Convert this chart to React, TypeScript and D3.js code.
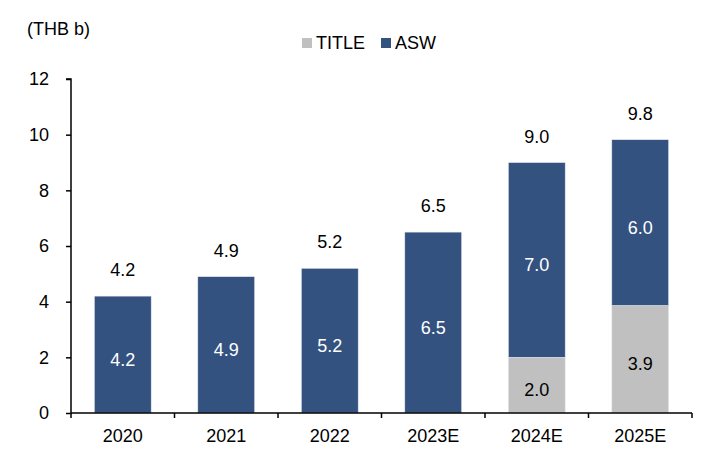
import React, { useEffect, useRef } from 'react';
import * as d3 from 'd3';

const categories = ['2020', '2021', '2022', '2023E', '2024E', '2025E'];
const titleValues = [0, 0, 0, 0, 2.0, 3.86];
const aswValues = [4.2, 4.9, 5.2, 6.5, 7.0, 5.96];
const yTicks = [0, 2, 4, 6, 8, 10, 12];
const seriesNames = ['TITLE', 'ASW'];
const seriesColors = ['#c0c0c0', '#34527f'];
const unitLabel = '(THB b)';

const App = () => {
    const d3Container = useRef<HTMLDivElement>(null);

    useEffect(() => {
        document.body.style.margin = '0';
        if (!d3Container.current) return;
        d3.select(d3Container.current).selectAll('*').remove();

        const width = 728;
        const height = 457;
        const font = 'Liberation Sans, Arial, sans-serif';

        const svg = d3.select(d3Container.current)
            .append('svg')
            .attr('width', width)
            .attr('height', height)
            .style('display', 'block')
            .style('font-family', font);

        const x = d3.scaleBand()
            .domain(categories)
            .range([71, 692])
            .paddingInner(0.45)
            .paddingOuter(0.225);

        const y = d3.scaleLinear()
            .domain([0, 12])
            .range([413, 79]);

        // stacked rows
        const rows = categories.map((c, i) => ({ cat: c, TITLE: titleValues[i], ASW: aswValues[i] }));
        const stacked = d3.stack<any>().keys(seriesNames)(rows);

        stacked.forEach((layer, li) => {
            svg.append('g')
                .selectAll('rect')
                .data(layer)
                .enter()
                .filter(d => d[1] - d[0] > 0)
                .append('rect')
                .attr('x', d => x(d.data.cat)!)
                .attr('y', d => y(d[1]))
                .attr('width', x.bandwidth())
                .attr('height', d => y(d[0]) - y(d[1]))
                .attr('fill', seriesColors[li])
                .attr('stroke', '#e8ecf2')
                .attr('stroke-width', 0.6);

            svg.append('g')
                .selectAll('text')
                .data(layer)
                .enter()
                .filter(d => d[1] - d[0] > 0)
                .append('text')
                .attr('x', d => x(d.data.cat)! + x.bandwidth() / 2)
                .attr('y', d => (y(d[0]) + y(d[1])) / 2 + 11)
                .attr('text-anchor', 'middle')
                .attr('font-size', 18)
                .attr('fill', li === 0 ? '#000' : '#fff')
                .text(d => d3.format('.1f')(d[1] - d[0]));
        });

        // totals above bars
        svg.append('g')
            .selectAll('text')
            .data(rows)
            .enter()
            .append('text')
            .attr('x', d => x(d.cat)! + x.bandwidth() / 2)
            .attr('y', d => y(d.TITLE + d.ASW) - 20)
            .attr('text-anchor', 'middle')
            .attr('font-size', 18)
            .attr('fill', '#000')
            .text(d => d3.format('.1f')(d.TITLE + d.ASW));

        // y axis
        const yAxis = svg.append('g')
            .attr('transform', 'translate(71,0)')
            .call(d3.axisLeft(y).tickValues(yTicks).tickSize(5).tickPadding(17).tickFormat(d3.format('d')));
        yAxis.select('.domain').attr('stroke', '#000').attr('stroke-width', 1.5).attr('d', `M-5,${y(12)}H0V${y(0)}`);
        yAxis.selectAll('.tick line').attr('stroke', '#000').attr('stroke-width', 1.5);
        yAxis.selectAll('.tick text')
            .attr('font-size', 18)
            .attr('font-family', font)
            .attr('fill', '#000');

        // x axis
        const xAxis = svg.append('g');
        xAxis.append('line')
            .attr('x1', 71).attr('x2', 692)
            .attr('y1', y(0)).attr('y2', y(0))
            .attr('stroke', '#000').attr('stroke-width', 1.5);
        const step = x.step();
        const bounds = d3.range(categories.length + 1).map(i => 71 + i * step);
        xAxis.selectAll('line.tk')
            .data(bounds)
            .enter()
            .append('line')
            .attr('class', 'tk')
            .attr('x1', d => d).attr('x2', d => d)
            .attr('y1', y(0)).attr('y2', y(0) + 5)
            .attr('stroke', '#000').attr('stroke-width', 1.5);
        xAxis.selectAll('text')
            .data(categories)
            .enter()
            .append('text')
            .attr('x', d => x(d)! + x.bandwidth() / 2)
            .attr('y', y(0) + 29)
            .attr('text-anchor', 'middle')
            .attr('font-size', 18)
            .attr('fill', '#000')
            .text(d => d);

        // unit label
        svg.append('text')
            .attr('x', 27)
            .attr('y', 35)
            .attr('font-size', 18)
            .attr('fill', '#000')
            .text(unitLabel);

        // legend
        const legendX = [302, 381];
        seriesNames.forEach((name, i) => {
            svg.append('rect')
                .attr('x', legendX[i])
                .attr('y', 38)
                .attr('width', 10)
                .attr('height', 10)
                .attr('fill', seriesColors[i]);
            svg.append('text')
                .attr('x', legendX[i] + 14)
                .attr('y', 49)
                .attr('font-size', 18)
                .attr('fill', '#000')
                .text(name);
        });
    }, []);

    return <div ref={d3Container} />;
};

export default App;
